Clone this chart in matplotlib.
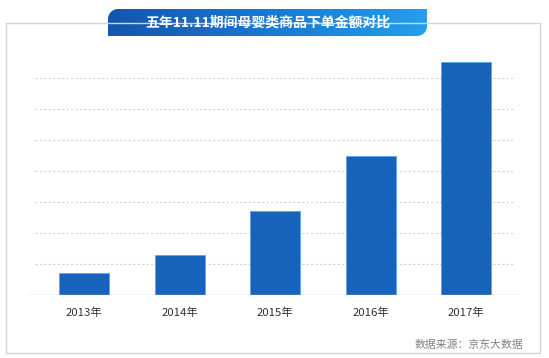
import matplotlib
matplotlib.use('Agg')
import matplotlib.pyplot as plt
import numpy as np
from matplotlib.path import Path
from matplotlib.patches import PathPatch, Rectangle
from matplotlib.colors import LinearSegmentedColormap

plt.rcParams['font.family'] = ['Noto Sans CJK SC', 'DejaVu Sans']

categories = ['2013年', '2014年', '2015年', '2016年', '2017年']
values = [0.69, 1.29, 2.72, 4.50, 7.53]
grid_levels = [1, 2, 3, 4, 5, 6, 7]
title = '五年11.11期间母婴类商品下单金额对比'
source = '数据来源：京东大数据'

W, H = 549, 358
fig = plt.figure(figsize=(W / 100, H / 100), dpi=100)
fig.patch.set_facecolor('white')


def fx(px):
    return px / W


def fy(py):
    return 1 - py / H


# outer frame
fig.patches.append(Rectangle((fx(6), fy(353)), (540 - 6) / W, (353 - 23) / H,
                             transform=fig.transFigure, fill=False,
                             edgecolor='#d4d4d4', lw=1.0, zorder=0))

# main axes
left_px, right_px = 28, 520
bottom_px, top_px = 294.7, 40
ax = fig.add_axes([fx(left_px), fy(bottom_px), (right_px - left_px) / W,
                   (bottom_px - top_px) / H])
ax.set_facecolor('none')
spacing = 95.5
c0 = 84
unit = 30.9
ax.set_xlim((left_px - c0) / spacing, (right_px - c0) / spacing)
ax.set_ylim(0, (bottom_px - top_px) / unit)

x = np.arange(len(categories))
ax.hlines(grid_levels, (35 - c0) / spacing, (515 - c0) / spacing,
          colors='#d2d2d2', linestyles=(0, (2, 2)), lw=0.8, zorder=1)
ax.bar(x, values, width=50 / spacing, color='#1763bb', edgecolor='#5aa6ea',
       lw=0.6, zorder=2)
ax.axhline(0, color='#c8c8c8', lw=1.0, zorder=3)

for s in ax.spines.values():
    s.set_visible(False)
ax.set_yticks([])
ax.set_xticks(x)
ax.set_xticklabels(categories, fontsize=8.2, color='#333333')
ax.tick_params(axis='x', length=0, pad=9)

# title banner
bx0, bx1, by0, by1 = 108, 427, 9, 36
bw, bh = bx1 - bx0, by1 - by0
bax = fig.add_axes([fx(bx0), fy(by1), bw / W, bh / H])
bax.set_xlim(0, bw)
bax.set_ylim(0, bh)
bax.axis('off')
r = 10
pts = [(0, 0), (bw - r, 0)]
for t in np.linspace(-np.pi / 2, 0, 12):
    pts.append((bw - r + r * np.cos(t), r + r * np.sin(t)))
pts += [(bw, bh), (r, bh)]
for t in np.linspace(np.pi / 2, np.pi, 12):
    pts.append((r + r * np.cos(t), bh - r + r * np.sin(t)))
pts.append((0, 0))
path = Path(pts)
patch = PathPatch(path, facecolor='none', edgecolor='none')
bax.add_patch(patch)
cmap = LinearSegmentedColormap.from_list('b', ['#1555ad', '#1a78d0', '#22a0ec'])
grad = np.linspace(0, 1, 256).reshape(1, -1)
im = bax.imshow(grad, extent=[0, bw, 0, bh], aspect='auto', cmap=cmap,
                origin='lower')
im.set_clip_path(patch)

fig.text(fx(267.5), fy(22.5), title, color='white', fontsize=10,
         fontweight='bold', ha='center', va='center')

fig.text(fx(523), fy(345), source, color='#808080', fontsize=7.8,
         ha='right', va='center')

fig.savefig('out.png', dpi=100)
